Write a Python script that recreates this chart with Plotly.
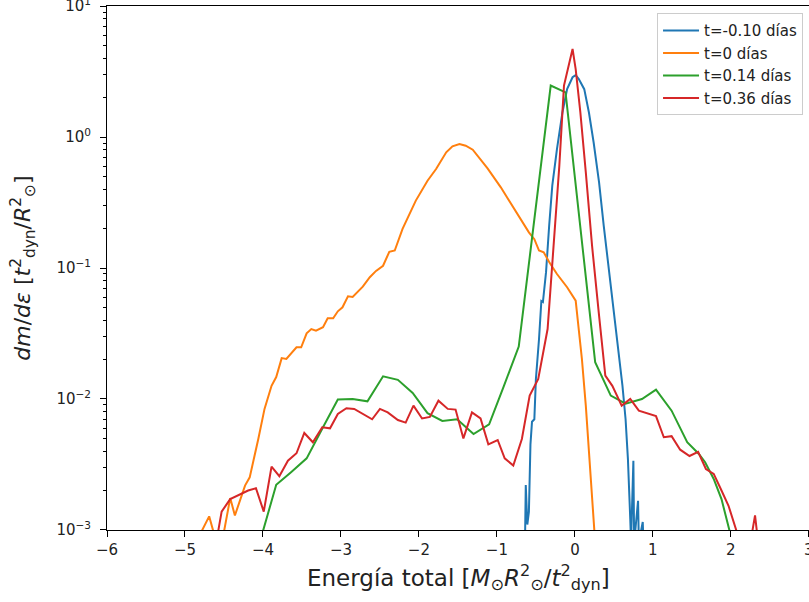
import plotly.graph_objects as go

# ---- data ----
x_m010 = [-0.64, -0.63, -0.61, -0.59, -0.57, -0.55, -0.52, -0.50, -0.46, -0.43, -0.41, -0.37, -0.33,
          -0.29, -0.23, -0.16, -0.10, -0.03, 0.01, 0.05, 0.12, 0.18, 0.24, 0.31, 0.37, 0.43, 0.50,
          0.56, 0.61, 0.65, 0.68, 0.71, 0.72, 0.75, 0.76, 0.81, 0.82, 0.87, 0.88]
y_m010 = [0.0008, 0.0022, 0.0011, 0.00137, 0.0045, 0.0067, 0.0070, 0.0142, 0.0287, 0.056, 0.055,
          0.093, 0.21, 0.425, 0.81, 1.54, 2.32, 2.86, 2.97, 2.77, 2.32, 1.54, 0.912, 0.451, 0.21,
          0.104, 0.0459, 0.0214, 0.0126, 0.0070, 0.00348, 0.00121, 0.0008, 0.00338, 0.0008,
          0.00167, 0.0008, 0.00115, 0.0008]

x_0 = [-4.86, -4.69, -4.62, -4.51, -4.42, -4.36, -4.23, -4.17, -4.06, -3.98, -3.89, -3.83, -3.76,
       -3.70, -3.57, -3.51, -3.44, -3.38, -3.32, -3.23, -3.17, -3.10, -3.04, -2.98, -2.91, -2.85,
       -2.72, -2.63, -2.55, -2.46, -2.38, -2.31, -2.21, -2.04, -1.89, -1.78, -1.65, -1.57, -1.48,
       -1.40, -1.31, -1.23, -1.19, -1.12, -0.95, -0.80, -0.69, -0.59, -0.52, -0.46, -0.40, -0.33,
       -0.23, -0.10, 0.01, 0.05, 0.09, 0.14, 0.18, 0.26]
y_0 = [0.0008, 0.00127, 0.0009, 0.0009, 0.00175, 0.00129, 0.00218, 0.00252, 0.00495, 0.0084,
       0.0126, 0.0147, 0.0205, 0.0202, 0.0248, 0.0248, 0.0317, 0.0342, 0.0332, 0.0353, 0.0413,
       0.0413, 0.0467, 0.0501, 0.0608, 0.060, 0.072, 0.085, 0.095, 0.104, 0.133, 0.136, 0.199,
       0.327, 0.464, 0.570, 0.764, 0.849, 0.885, 0.859, 0.80, 0.70, 0.659, 0.577, 0.413, 0.299,
       0.237, 0.187, 0.166, 0.136, 0.132, 0.111, 0.090, 0.0713, 0.0563, 0.0342, 0.0202, 0.0089,
       0.00369, 0.0008]

x_014 = [-4.0, -3.83, -3.64, -3.44, -3.23, -3.04, -2.85, -2.66, -2.46, -2.27, -2.08, -1.89, -1.70,
         -1.51, -1.30, -1.10, -0.91, -0.72, -0.31, -0.12, 0.26, 0.46, 0.65, 0.86, 1.04, 1.24, 1.44,
         1.59, 1.67, 1.78, 1.88, 2.00]
y_014 = [0.00098, 0.00221, 0.00276, 0.00352, 0.00608, 0.0099, 0.0100, 0.0096, 0.0149, 0.0140,
         0.0111, 0.0078, 0.0068, 0.0070, 0.0054, 0.0064, 0.0126, 0.0251, 2.47, 2.19, 0.0191,
         0.0106, 0.0092, 0.0100, 0.0118, 0.00814, 0.00467, 0.0038, 0.00329, 0.00245, 0.00172,
         0.0009]

x_036 = [-4.60, -4.53, -4.42, -4.32, -4.19, -4.09, -3.99, -3.89, -3.79, -3.68, -3.57, -3.47, -3.36,
         -3.24, -3.14, -3.04, -2.93, -2.83, -2.72, -2.60, -2.50, -2.40, -2.27, -2.17, -2.07, -1.96,
         -1.86, -1.75, -1.63, -1.53, -1.43, -1.32, -1.21, -1.11, -0.99, -0.90, -0.79, -0.68, -0.58,
         -0.47, -0.35, -0.28, -0.20, -0.14, -0.03, 0.01, 0.07, 0.14, 0.22, 0.31, 0.39, 0.48, 0.60,
         0.71, 0.82, 1.04, 1.14, 1.24, 1.35, 1.47, 1.58, 1.68, 1.78, 1.88, 1.97, 2.08, 2.25, 2.31,
         2.35]
y_036 = [0.0008, 0.00138, 0.00172, 0.00183, 0.0020, 0.00208, 0.00138, 0.00304, 0.00257, 0.00338,
         0.00385, 0.0055, 0.00467, 0.00608, 0.00597, 0.00768, 0.0085, 0.0084, 0.0077, 0.0070,
         0.0084, 0.0079, 0.0069, 0.0066, 0.0089, 0.0071, 0.0073, 0.0097, 0.0084, 0.0083, 0.0050,
         0.0079, 0.0071, 0.0045, 0.00486, 0.00352, 0.0031, 0.00495, 0.0106, 0.0142, 0.0342, 0.124,
         0.60, 2.47, 4.70, 3.30, 1.54, 0.538, 0.148, 0.0433, 0.0151, 0.0126, 0.0089, 0.0100,
         0.00814, 0.0074, 0.0051, 0.0052, 0.0041, 0.00367, 0.00394, 0.00292, 0.00268, 0.0020,
         0.00153, 0.00095, 0.0008, 0.00129, 0.0008]

series = [
    ("t=-0.10 días", x_m010, y_m010, "#1f77b4"),
    ("t=0 días", x_0, y_0, "#ff7f0e"),
    ("t=0.14 días", x_014, y_014, "#2ca02c"),
    ("t=0.36 días", x_036, y_036, "#d62728"),
]

x_ticks = [-6, -5, -4, -3, -2, -1, 0, 1, 2, 3]
x_ticktext = ["−6", "−5", "−4", "−3", "−2", "−1", "0", "1", "2", "3"]
y_ticks = [1e-3, 1e-2, 1e-1, 1, 10]
y_ticktext = ["10<sup>−3</sup>", "10<sup>−2</sup>", "10<sup>−1</sup>", "10<sup>0</sup>", "10<sup>1</sup>"]
y_minor = [k * 10.0 ** e for e in range(-3, 1) for k in range(2, 10)]

FONT = "DejaVu Sans"
fig = go.Figure()
for i, (name, xs, ys, col) in enumerate(series):
    fig.add_trace(go.Scatter(x=xs, y=ys, mode="lines", name=name, legendgroup=f"g{i}",
                             line=dict(color=col, width=2)))

fig.update_layout(
    width=809, height=602,
    margin=dict(l=107, r=0, t=6, b=72, autoexpand=False),
    paper_bgcolor="white", plot_bgcolor="white",
    font=dict(family=FONT, size=15, color="#222"),
    showlegend=True,
    legend=dict(x=0.9915, y=0.986, xanchor="right", yanchor="top",
                bgcolor="rgba(255,255,255,0.8)", bordercolor="#cccccc", borderwidth=1,
                font=dict(family=FONT, size=15, color="#222"), tracegroupgap=0, itemwidth=36),
    xaxis=dict(range=[-6, 3.002], tickvals=x_ticks, ticktext=x_ticktext, showgrid=False,
               zeroline=False, showline=True, linecolor="black", linewidth=1, mirror=True,
               ticks="outside", ticklen=6, tickwidth=1, tickcolor="black",
               ticklabeloverflow="allow", automargin=False,
               tickfont=dict(family=FONT, size=15, color="#222")),
    yaxis=dict(type="log", range=[-3.0005, 1.0005], tickvals=y_ticks, ticktext=y_ticktext,
               showgrid=False,
               zeroline=False, showline=True, linecolor="black", linewidth=1,
               ticks="outside", ticklen=6, tickwidth=1, tickcolor="black",
               ticklabeloverflow="allow", ticklabelstandoff=6, automargin=False,
               tickfont=dict(family=FONT, size=15, color="#222"),
               minor=dict(tickvals=y_minor, ticks="outside", ticklen=3.5, tickwidth=0.8,
                          tickcolor="black", showgrid=False)),
    annotations=[
        dict(text="Energía total [<i>M</i><sub>⊙</sub><i>R</i><sup>2</sup><sub>⊙</sub>/<i>t</i><sup>2</sup><sub>dyn</sub>]",
             xref="paper", yref="paper", x=0.5, y=-0.09, xanchor="center", yanchor="middle",
             showarrow=False, font=dict(family=FONT, size=23, color="#222")),
        dict(text="<i>dm</i>/<i>dε</i> [<i>t</i><sup>2</sup><sub>dyn</sub>/<i>R</i><sup>2</sup><sub>⊙</sub>]",
             xref="paper", yref="paper", x=-0.12, y=0.50, xanchor="center", yanchor="middle",
             textangle=-90, showarrow=False, font=dict(family=FONT, size=22, color="#222")),
    ],
)

fig.write_html("out.html")
